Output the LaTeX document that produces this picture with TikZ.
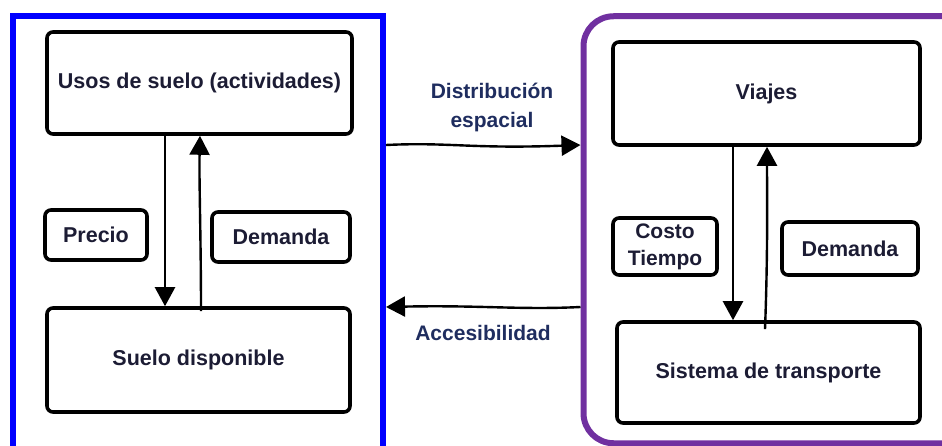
\documentclass[tikz,border=0pt]{standalone}
\usepackage{fontspec}
\setmainfont{Liberation Sans}
\usetikzlibrary{arrows.meta}
\definecolor{frameblue}{RGB}{0,0,255}
\definecolor{framepurple}{RGB}{112,48,160}
\definecolor{boxtext}{RGB}{28,28,52}
\definecolor{linktext}{RGB}{31,45,95}
\tikzset{
  box/.style={draw=black, line width=3.6pt, rounded corners=6pt, inner sep=0pt,
    align=center, text=boxtext, font=\fontsize{21.5}{26}\selectfont\bfseries},
  frame/.style={draw, line width=6pt, inner sep=0pt},
  flow/.style={line width=2.4pt, -{Triangle[length=19pt,width=20pt]}},
  linklabel/.style={text=linktext, align=center, font=\fontsize{21}{29}\selectfont\bfseries}
}
\begin{document}
\begin{tikzpicture}[x=1pt,y=-1pt]
\useasboundingbox (0,0) rectangle (942,446);
\clip (0,0) rectangle (942,446);

% outer frames: land use (left) and transport (right)
\node[frame, draw=frameblue, minimum width=370pt, minimum height=454pt] (landframe) at (198,243) {};
\node[frame, draw=framepurple, rounded corners=30pt, minimum width=400pt, minimum height=427pt] (transframe) at (783.5,229.75) {};

% land-use subsystem
\node[box, minimum width=305pt, minimum height=102pt] (usos) at (199.5,83) {Usos de suelo (actividades)};
\node[box, minimum width=303pt, minimum height=104pt] (suelo) at (198.5,360) {Suelo disponible};
\node[box, minimum width=102pt, minimum height=50pt] (precio) at (96,235) {Precio};
\node[box, minimum width=138pt, minimum height=50pt] (demandaA) at (281,237) {Demanda};

% transport subsystem
\node[box, minimum width=307pt, minimum height=103pt] (viajes) at (766.5,93.5) {Viajes};
\node[box, minimum width=303pt, minimum height=101pt] (sistema) at (768.5,372.5) {Sistema de transporte};
\node[box, minimum width=104pt, minimum height=57pt, font=\fontsize{21}{27}\selectfont\bfseries] (costo) at (665,246.5) {Costo\\Tiempo};
\node[box, minimum width=136pt, minimum height=53pt] (demandaB) at (850,248.5) {Demanda};

% internal feedback loops
\draw[flow] (usos.south -| 165,0) -- (suelo.north -| 165,0);
\draw[flow] ([yshift=-5pt]suelo.north -| 201,0) .. controls (201,240) and (199,180) .. (usos.south -| 200,0);
\draw[flow] (viajes.south -| 733,0) -- (sistema.north -| 733,0);
\draw[flow] ([yshift=-9pt]sistema.north -| 765,0) .. controls (768,250) and (767,190) .. (viajes.south -| 767,0);

% links between the two subsystems
\draw[flow] (landframe.east |- 0,145) .. controls (450,142) and (470,149) .. (transframe.west |- 0,145);
\draw[flow] (transframe.west |- 0,307) .. controls (520,310) and (480,305) .. (landframe.east |- 0,307);

\node[linklabel] (distrib) at (492,107.5) {Distribución\\espacial};
\node[linklabel] (acces) at (483,333) {Accesibilidad};
\end{tikzpicture}
\end{document}
